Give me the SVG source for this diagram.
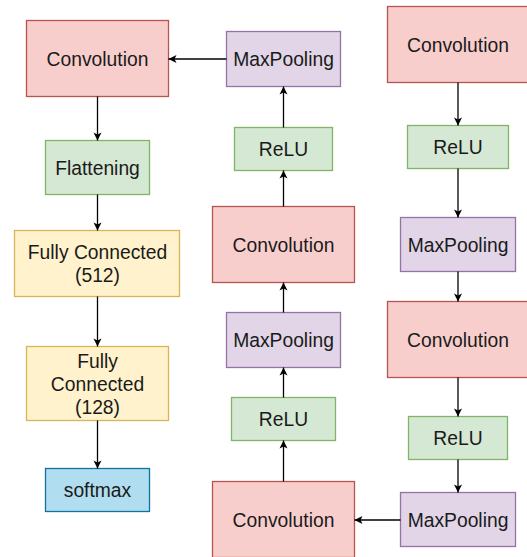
<svg xmlns="http://www.w3.org/2000/svg" width="527" height="557" viewBox="0 0 527 557">
  <style>
    .conv { fill: #f8cecc; stroke: #b85450; stroke-width: 1.3; }
    .relu { fill: #d5e8d4; stroke: #82b366; stroke-width: 1.3; }
    .pool { fill: #e1d5e7; stroke: #9673a6; stroke-width: 1.3; }
    .fc   { fill: #fff2cc; stroke: #d6b656; stroke-width: 1.3; }
    .out  { fill: #b1ddf0; stroke: #10739e; stroke-width: 1.3; }
    text { font-family: "Liberation Sans", Arial, sans-serif; font-size: 19.3px; fill: #1a1a1a; text-anchor: middle; }
    .edge { fill: none; stroke: #000; stroke-width: 1.3; marker-end: url(#arrow); }
  </style>
  <defs>
    <marker id="arrow" markerUnits="userSpaceOnUse" markerWidth="10" markerHeight="10" viewBox="0 0 10 10" refX="9" refY="5" orient="auto">
      <path d="M1,1 L9,5 L1,9 L3,5 Z" fill="#000"/>
    </marker>
  </defs>
  <rect width="527" height="557" fill="#fff"/>

  <!-- left column: classifier head -->
  <g id="conv-left">
    <rect class="conv" x="26.5" y="20.5" width="142" height="76"/>
    <text x="97.5" y="65.5">Convolution</text>
  </g>
  <g id="flatten">
    <rect class="relu" x="45.5" y="140.5" width="104" height="54"/>
    <text x="97.5" y="174.5">Flattening</text>
  </g>
  <g id="fc512">
    <rect class="fc" x="14.5" y="230.5" width="165" height="66"/>
    <text x="97.5" y="258.5">Fully Connected</text>
    <text x="97.5" y="282">(512)</text>
  </g>
  <g id="fc128">
    <rect class="fc" x="26.5" y="346.5" width="142" height="74"/>
    <text x="97.5" y="368">Fully</text>
    <text x="97.5" y="391">Connected</text>
    <text x="97.5" y="414">(128)</text>
  </g>
  <g id="softmax">
    <rect class="out" x="45.5" y="468.5" width="104" height="43"/>
    <text x="97.5" y="497">softmax</text>
  </g>

  <!-- middle column -->
  <g id="pool-mid-top">
    <rect class="pool" x="226.5" y="31.5" width="114" height="55"/>
    <text x="283.5" y="66">MaxPooling</text>
  </g>
  <g id="relu-mid-top">
    <rect class="relu" x="234.5" y="127.5" width="98" height="43"/>
    <text x="283.5" y="156">ReLU</text>
  </g>
  <g id="conv-mid">
    <rect class="conv" x="212.5" y="206.5" width="142" height="76"/>
    <text x="283.5" y="251.5">Convolution</text>
  </g>
  <g id="pool-mid">
    <rect class="pool" x="226.5" y="312.5" width="114" height="55"/>
    <text x="283.5" y="347">MaxPooling</text>
  </g>
  <g id="relu-mid-bottom">
    <rect class="relu" x="231.5" y="397.5" width="104" height="43"/>
    <text x="283.5" y="426">ReLU</text>
  </g>
  <g id="conv-mid-bottom">
    <rect class="conv" x="212.5" y="481.5" width="142" height="76"/>
    <text x="283.5" y="527">Convolution</text>
  </g>

  <!-- right column -->
  <g id="conv-right-top">
    <rect class="conv" x="387.5" y="6.5" width="142" height="76"/>
    <text x="458" y="51.5">Convolution</text>
  </g>
  <g id="relu-right-top">
    <rect class="relu" x="407.5" y="125.5" width="101" height="43"/>
    <text x="458" y="154">ReLU</text>
  </g>
  <g id="pool-right">
    <rect class="pool" x="400.5" y="217.5" width="115" height="54"/>
    <text x="458" y="251.5">MaxPooling</text>
  </g>
  <g id="conv-right">
    <rect class="conv" x="387.5" y="301.5" width="142" height="76"/>
    <text x="458" y="347">Convolution</text>
  </g>
  <g id="relu-right-bottom">
    <rect class="relu" x="408.5" y="416.5" width="99" height="43"/>
    <text x="458" y="445">ReLU</text>
  </g>
  <g id="pool-right-bottom">
    <rect class="pool" x="400.5" y="492.5" width="115" height="54"/>
    <text x="458" y="527">MaxPooling</text>
  </g>

  <!-- connectors -->
  <g id="connectors">
    <path class="edge" d="M458,82.5 V125.5"/>
    <path class="edge" d="M458,168.5 V217.5"/>
    <path class="edge" d="M458,271.5 V301.5"/>
    <path class="edge" d="M458,377.5 V416.5"/>
    <path class="edge" d="M458,459.5 V492.5"/>
    <path class="edge" d="M400.5,520 H354.5"/>
    <path class="edge" d="M283.5,481.5 V440.5"/>
    <path class="edge" d="M283.5,397.5 V367.5"/>
    <path class="edge" d="M283.5,312.5 V282.5"/>
    <path class="edge" d="M283.5,206.5 V170.5"/>
    <path class="edge" d="M283.5,127.5 V86.5"/>
    <path class="edge" d="M226.5,59 H168.5"/>
    <path class="edge" d="M97.5,96.5 V140.5"/>
    <path class="edge" d="M97.5,194.5 V230.5"/>
    <path class="edge" d="M97.5,296.5 V346.5"/>
    <path class="edge" d="M97.5,420.5 V468.5"/>
  </g>
</svg>
